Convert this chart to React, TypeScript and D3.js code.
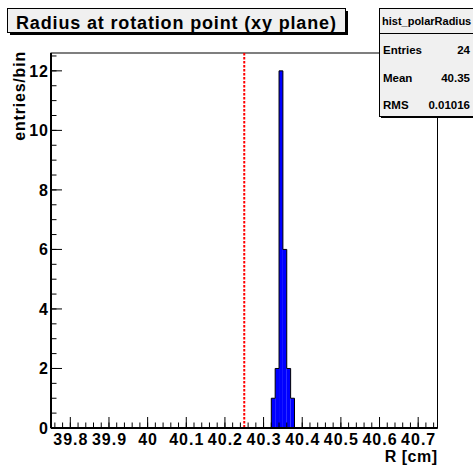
import React from "react";
import * as d3 from "d3";

const binEdgesLow = [40.32, 40.33, 40.34, 40.35, 40.36, 40.37];
const binCounts = [1, 2, 12, 6, 2, 1];
const binWidth = 0.01;
const xDomain = [39.75, 40.75];
const yDomain = [0, 12.6];
const xMajorTicks = [39.8, 39.9, 40.0, 40.1, 40.2, 40.3, 40.4, 40.5, 40.6, 40.7];
const xTickLabels = ["39.8", "39.9", "40", "40.1", "40.2", "40.3", "40.4", "40.5", "40.6", "40.7"];
const yMajorTicks = [0, 2, 4, 6, 8, 10, 12];
const cutValue = 40.25;
const title = "Radius at rotation point (xy plane)";
const statsName = "hist_polarRadius";
const statsLabels = ["Entries", "Mean", "RMS"];
const statsValues = ["24", "40.35", "0.01016"];

const FONT = "'Liberation Sans', Arial, Helvetica, sans-serif";

export default function App() {
  const W = 473, H = 465;
  const L = 51, R = 437.5, T = 53, B = 428;
  const x = d3.scaleLinear().domain(xDomain).range([L, R]);
  const y = d3.scaleLinear().domain(yDomain).range([B, T]);

  const xMinor = d3.range(0, 51).map((i) => xDomain[0] + 0.01 + i * 0.02).filter((v) => v < xDomain[1]);
  const yMinor = d3.range(0, 26).map((i) => i * 0.5).filter((v) => v <= yDomain[1]);

  const pts: [number, number][] = [];
  binEdgesLow.forEach((e, i) => {
    if (i === 0) pts.push([x(e), y(0)]);
    pts.push([x(e), y(binCounts[i])]);
    pts.push([x(e + binWidth), y(binCounts[i])]);
  });
  pts.push([x(binEdgesLow[binEdgesLow.length - 1] + binWidth), y(0)]);
  const outline = d3.line()(pts) || "";

  const sx = 379, sy = 8, sw = 110, sh = 108;
  const rowY = [54, 81.5, 108.5];

  return (
    <svg width={W} height={H} style={{ position: "absolute", left: 0, top: 0, background: "#fff" }} fontFamily={FONT}>
      <rect x={0} y={0} width={W} height={H} fill="#fff" />
      <rect x={L} y={T} width={R - L} height={B - T} fill="#fff" stroke="#000" strokeWidth={1} />
      {binEdgesLow.map((e, i) => (
        <rect key={i} x={x(e)} y={y(binCounts[i])} width={x(e + binWidth) - x(e)} height={y(0) - y(binCounts[i])} fill="#0000ff" />
      ))}
      <path d={outline} fill="none" stroke="#000" strokeWidth={1} />
      <line x1={x(cutValue)} x2={x(cutValue)} y1={T} y2={B} stroke="#ff0000" strokeWidth={2} strokeDasharray="2.5,1.5" />
      <line x1={L} x2={R} y1={B} y2={B} stroke="#000" strokeWidth={2} />
      <line x1={L} x2={L} y1={T} y2={B} stroke="#000" strokeWidth={2} />
      {xMinor.map((v, i) => (
        <line key={"xm" + i} x1={x(v)} x2={x(v)} y1={B} y2={B - 5.5} stroke="#000" strokeWidth={1} />
      ))}
      {xMajorTicks.map((v, i) => (
        <line key={"xM" + i} x1={x(v)} x2={x(v)} y1={B} y2={B - 11} stroke="#000" strokeWidth={1} />
      ))}
      {xMajorTicks.map((v, i) => (
        <text key={"xl" + i} x={x(v) + 0.5} y={445} textAnchor="middle" fontSize={16} fontWeight="bold" letterSpacing={1}>{xTickLabels[i]}</text>
      ))}
      {yMinor.map((v, i) => (
        <line key={"ym" + i} x1={L} x2={L + 5.5} y1={y(v)} y2={y(v)} stroke="#000" strokeWidth={1} />
      ))}
      {yMajorTicks.map((v, i) => (
        <text key={"yl" + i} x={L - 2} y={y(v) + 6} textAnchor="end" fontSize={16} fontWeight="bold" letterSpacing={1}>{String(v)}</text>
      ))}
      {yMajorTicks.map((v, i) => (
        <line key={"yM" + i} x1={L} x2={L + 11} y1={y(v)} y2={y(v)} stroke="#000" strokeWidth={1} />
      ))}
      <text x={R} y={462} textAnchor="end" fontSize={16} fontWeight="bold" letterSpacing={0.5}>R [cm]</text>
      <text transform={`translate(25,${T - 2}) rotate(-90)`} textAnchor="end" fontSize={16} fontWeight="bold" letterSpacing={0.8}>entries/bin</text>
      <rect x={10} y={11} width={338} height={24} fill="#000" />
      <rect x={7.5} y={8.5} width={338} height={24} fill="#f0f0f0" stroke="#000" strokeWidth={1} />
      <text x={16} y={28.5} fontSize={18} fontWeight="bold" letterSpacing={0.85}>{title}</text>
      <rect x={sx + 2} y={sy + 2} width={sw} height={sh} fill="#000" />
      <rect x={sx + 0.5} y={sy + 0.5} width={sw} height={sh} fill="#f0f0f0" stroke="#000" strokeWidth={1} />
      <line x1={sx} x2={sx + sw} y1={33.5} y2={33.5} stroke="#000" strokeWidth={1} />
      <text x={382} y={25} fontSize={11} fontWeight="bold">{statsName}</text>
      {statsLabels.map((s, i) => (
        <g key={s}>
          <text x={383} y={rowY[i]} fontSize={11.5} fontWeight="bold">{s}</text>
          <text x={470} y={rowY[i]} textAnchor="end" fontSize={11.5} fontWeight="bold">{statsValues[i]}</text>
        </g>
      ))}
    </svg>
  );
}
